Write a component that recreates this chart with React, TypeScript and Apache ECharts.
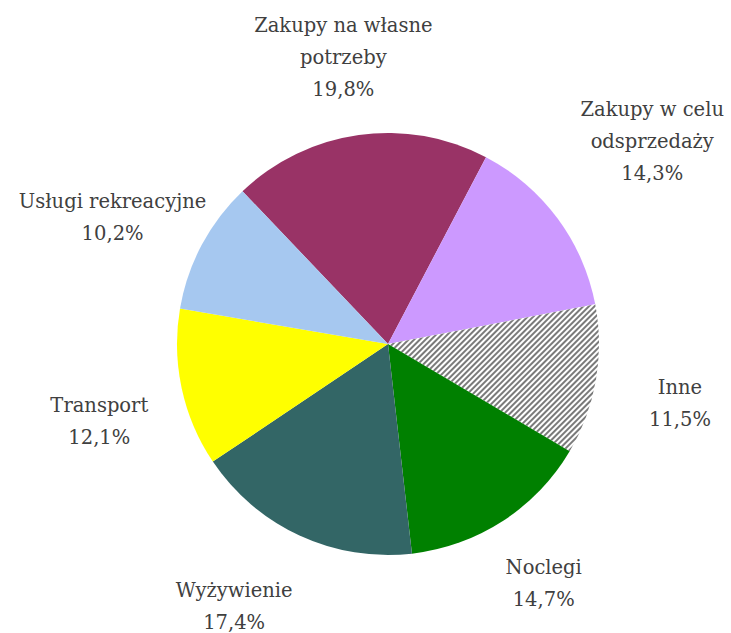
import React, { useEffect, useRef } from "react";
import * as echarts from "echarts";

const categories = [
  "Zakupy na własne\npotrzeby",
  "Zakupy w celu\nodsprzedaży",
  "Inne",
  "Noclegi",
  "Wyżywienie",
  "Transport",
  "Usługi rekreacyjne",
];
const shares = [19.8, 14.3, 11.5, 14.7, 17.4, 12.1, 10.2];
const colors = ["#993366", "#CC99FF", "#FFFFFF", "#008000", "#336666", "#FFFF00", "#A6C8F0"];

// label placement (layout only)
const labelDist = [290, 333, 298, 286, 304, 299, 303];
const labelNudge = [-0.9, -0.9, 1.7, 0, 5.6, -3, -3.4];

const CX = 388;
const CY = 344;
const R = 211;
const START_FROM_NORTH = -43.6;
const FONT = "DejaVu Serif";

export default function App() {
  const ref = useRef<HTMLDivElement>(null);
  useEffect(() => {
    if (!ref.current) return;
    const chart = echarts.init(ref.current, null, { renderer: "svg" });
    const total = shares.reduce((a, b) => a + b, 0);
    const mids: number[] = [];
    let acc = START_FROM_NORTH;
    shares.forEach((v) => {
      const span = (v / total) * 360;
      mids.push(acc + span / 2);
      acc += span;
    });
    const data = shares.map((v, i) => {
      const item: any = {
        name: categories[i],
        value: v,
        itemStyle: { color: colors[i] },
      };
      if (categories[i] === "Inne") {
        item.itemStyle = {
          color: "#FFFFFF",
          decal: {
            symbol: "rect",
            symbolSize: 1,
            dashArrayX: [1, 0],
            dashArrayY: [1.2, 1.7],
            rotation: -Math.PI / 4,
            color: "#7a7a7a",
          },
        };
      }
      return item;
    });
    chart.setOption({
      animation: false,
      backgroundColor: "#ffffff",
      textStyle: { fontFamily: FONT },
      series: [
        {
          type: "pie",
          center: [CX, CY],
          radius: R,
          startAngle: 90 - START_FROM_NORTH,
          clockwise: true,
          avoidLabelOverlap: false,
          data,
          label: {
            show: true,
            position: "outside",
            formatter: (p: any) => `${p.name}\n${p.value.toFixed(1).replace(".", ",")}%`,
            fontFamily: FONT,
            fontSize: 19.5,
            lineHeight: 32,
            color: "#404040",
            align: "center",
          },
          labelLine: { show: false },
          labelLayout: (p: any) => {
            const i = p.dataIndex;
            const a = ((mids[i] + labelNudge[i]) * Math.PI) / 180;
            return {
              x: CX + labelDist[i] * Math.sin(a),
              y: CY - labelDist[i] * Math.cos(a),
              align: "center",
              verticalAlign: "middle",
            };
          },
          emphasis: { disabled: true },
        },
      ],
    });
    return () => chart.dispose();
  }, []);
  return (
    <div
      ref={ref}
      style={{ position: "absolute", left: 0, top: 0, width: 731, height: 633 }}
    />
  );
}
